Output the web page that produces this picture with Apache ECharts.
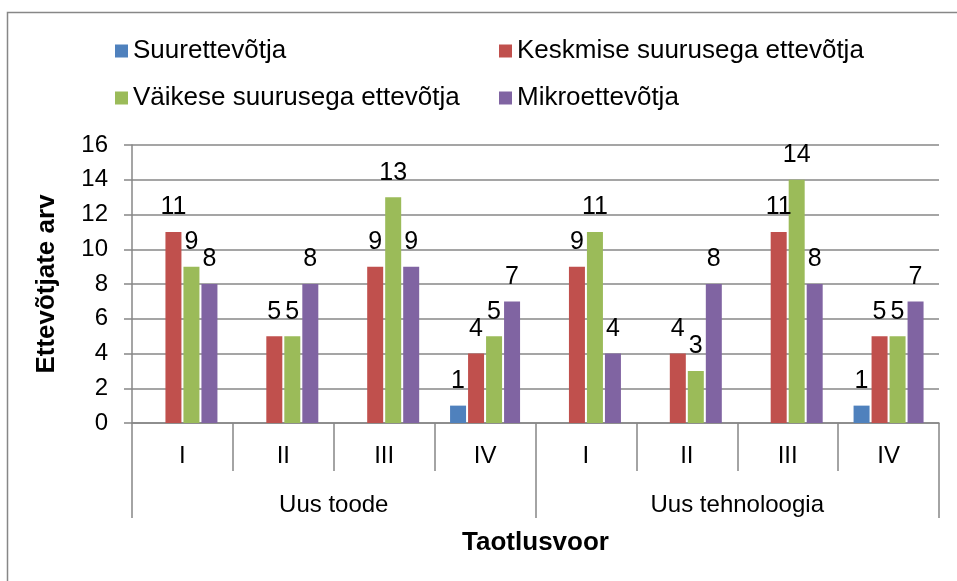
<!DOCTYPE html>
<html>
<head>
<meta charset="utf-8">
<title>Ettevõtjate arv taotlusvooru järgi</title>
<script src="https://cdn.jsdelivr.net/npm/echarts@6/dist/echarts.min.js"></script>
<style>
	html, body { margin: 0; padding: 0; background: #fff; }
	#chart { width: 957px; height: 581px; }
</style>
</head>
<body>
<div id="chart"></div>
<script>
// andmed
var rounds = ['I', 'II', 'III', 'IV', 'I', 'II', 'III', 'IV'];
var groups = ['Uus toode', 'Uus tehnoloogia'];
var yTicks = [0, 2, 4, 6, 8, 10, 12, 14, 16];

var seriesNames = ['Suurettevõtja', 'Keskmise suurusega ettevõtja', 'Väikese suurusega ettevõtja', 'Mikroettevõtja'];
var suur = [null, null, null, 1, null, null, null, 1];
var keskmine = [11, 5, 9, 4, 9, 4, 11, 5];
var vaike = [9, 5, 13, 5, 11, 3, 14, 5];
var mikro = [8, 8, 9, 7, 4, 8, 8, 7];

var colors = ['#4F81BD', '#C0504D', '#9BBB59', '#8064A2'];
var gridGray = '#878787';
var fontName = '"Liberation Sans", Arial, sans-serif';

var myChart = null;

/*
 * üks tulp-seeria
 */
function makeBar(idx, values){
	return {
		name : seriesNames[idx],
		type : 'bar',
		xAxisIndex : 0,
		data : values,
		barWidth : 16,
		barGap : '12.5%',
		itemStyle : { color : colors[idx] },
		label : {
			show : true,
			position : 'top',
			distance : 12,
			fontSize : 25,
			color : '#000',
			fontFamily : fontName
		}
	};
}

/*
 * legendi üks kirje, Exceli moodi paigutus kahes veerus
 */
function makeLegend(idx, left, top){
	return {
		data : [seriesNames[idx]],
		left : left,
		top : top,
		padding : 0,
		icon : 'rect',
		itemWidth : 13,
		itemHeight : 13,
		selectedMode : false,
		textStyle : { fontSize : 26, color : '#000', fontFamily : fontName }
	};
}

function initChart(){
	myChart = echarts.init(document.getElementById('chart'), null, { renderer : 'canvas' });
	var option = {
		animation : false,
		backgroundColor : '#fff',
		textStyle : { fontFamily : fontName },
		color : colors,
		legend : [
			makeLegend(0, 115, 38),
			makeLegend(1, 499, 38),
			makeLegend(2, 115, 85),
			makeLegend(3, 499, 85)
		],
		grid : { left : 132, right : 18, top : 145, bottom : 158, containLabel : false },
		xAxis : [
			{
				type : 'category',
				data : rounds,
				position : 'bottom',
				axisLine : { show : true, lineStyle : { color : gridGray, width : 1.5 } },
				axisTick : { show : true, length : 48, lineStyle : { color : gridGray, width : 1.5 } },
				axisLabel : { interval : 0, margin : 21, fontSize : 24, color : '#000' },
				splitLine : { show : false }
			},
			{
				type : 'category',
				data : groups,
				position : 'bottom',
				offset : 0,
				axisLine : { show : false },
				axisTick : { show : true, length : 95, lineStyle : { color : gridGray, width : 1.5 } },
				axisLabel : { interval : 0, margin : 70, fontSize : 24, color : '#000' },
				splitLine : { show : false },
				name : 'Taotlusvoor',
				nameLocation : 'middle',
				nameGap : 107,
				nameTextStyle : { fontSize : 26, fontWeight : 'bold', color : '#000' }
			}
		],
		yAxis : {
			type : 'value',
			min : yTicks[0],
			max : yTicks[yTicks.length - 1],
			interval : 2,
			name : 'Ettevõtjate arv',
			nameLocation : 'middle',
			nameRotate : 90,
			nameGap : 72,
			nameTextStyle : { fontSize : 26, fontWeight : 'bold', color : '#000' },
			axisLine : { show : true, lineStyle : { color : gridGray, width : 1.5 } },
			axisTick : { show : true, inside : false, length : 8, lineStyle : { color : gridGray, width : 1.5 } },
			axisLabel : { margin : 24, fontSize : 24, color : '#000' },
			splitLine : { show : true, lineStyle : { color : gridGray, width : 1.5 } }
		},
		series : [
			makeBar(0, suur),
			makeBar(1, keskmine),
			makeBar(2, vaike),
			makeBar(3, mikro)
		],
		graphic : [
			{
				// diagrammi raam (parem ja alumine serv jäävad pildist välja)
				type : 'rect',
				shape : { x : 7.5, y : 12.5, width : 1000, height : 1000 },
				style : { fill : null, stroke : gridGray, lineWidth : 1.5 },
				silent : true
			}
		]
	};
	myChart.setOption(option);
}

initChart();
</script>
</body>
</html>
